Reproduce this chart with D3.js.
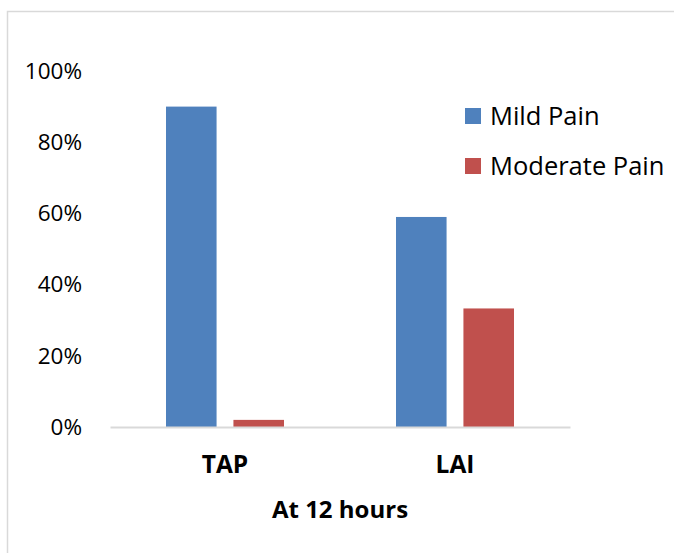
<!DOCTYPE html>
<html>
<head>
<meta charset="utf-8">
<script src="https://cdn.jsdelivr.net/npm/d3@7"></script>
<style>
  html, body { margin: 0; padding: 0; background: #fff; }
  svg { display: block; }
</style>
</head>
<body>
<svg id="chart" width="674" height="553"></svg>
<script>
// Pain scores at 12 hours, share of patients per group
const categories = ["TAP", "LAI"];
const seriesNames = ["Mild Pain", "Moderate Pain"];
const mildPain = [0.90, 0.59];
const moderatePain = [0.02, 0.333];
const yTicks = [0, 0.2, 0.4, 0.6, 0.8, 1.0];
const xTitle = "At 12 hours";

const colors = ["#4F81BD", "#C0504D"];
const font = "'Open Sans', 'DejaVu Sans', sans-serif";

const svg = d3.select("#chart");
const W = 674, H = 553;

// outer frame (top and left edges visible)
svg.append("rect")
  .attr("x", 7.5).attr("y", 11.5)
  .attr("width", W + 10).attr("height", H + 10)
  .attr("fill", "#fff")
  .attr("stroke", "#d9d9d9")
  .attr("stroke-width", 1.5);

const plot = { left: 110, right: 570, top: 71, bottom: 427 };

const x0 = d3.scaleBand()
  .domain(categories)
  .range([plot.left, plot.right])
  .paddingInner(0)
  .paddingOuter(0);

const x1 = d3.scaleBand()
  .domain(seriesNames)
  .range([0, 118])
  .paddingInner(0.25)
  .paddingOuter(0);

const y = d3.scaleLinear()
  .domain([0, 1])
  .range([plot.bottom, plot.top]);

const rows = categories.map((c, i) => ({
  category: c,
  values: [
    { series: seriesNames[0], value: mildPain[i] },
    { series: seriesNames[1], value: moderatePain[i] }
  ]
}));

// bars
const groups = svg.append("g").selectAll("g")
  .data(rows)
  .join("g")
  .attr("transform", d => `translate(${x0(d.category) + (x0.bandwidth() - 118) / 2},0)`);

groups.selectAll("rect")
  .data(d => d.values)
  .join("rect")
  .attr("x", d => x1(d.series))
  .attr("width", x1.bandwidth())
  .attr("y", d => y(d.value))
  .attr("height", d => y(0) - y(d.value))
  .attr("fill", (d, i) => colors[i]);

// y axis labels (no axis line)
const yAxis = d3.axisLeft(y)
  .tickValues(yTicks)
  .tickFormat(d3.format(".0%"))
  .tickSize(0)
  .tickPadding(0);

const yg = svg.append("g")
  .attr("transform", `translate(82,0)`)
  .call(yAxis);
yg.select(".domain").remove();
yg.selectAll("text")
  .attr("font-family", font)
  .attr("font-size", 22.5)
  .attr("fill", "#000");

// x axis baseline
const xAxis = d3.axisBottom(x0).tickSize(0).tickPadding(0);
const xg = svg.append("g")
  .attr("transform", `translate(0,${plot.bottom})`)
  .call(xAxis);
xg.select(".domain")
  .attr("stroke", "#d9d9d9")
  .attr("stroke-width", 2);
xg.selectAll("text")
  .attr("dy", 0)
  .attr("y", 46)
  .attr("font-family", font)
  .attr("font-size", 24.5)
  .attr("font-weight", "bold")
  .attr("fill", "#000");

// x axis title
svg.append("text")
  .attr("x", (plot.left + plot.right) / 2)
  .attr("y", 518)
  .attr("text-anchor", "middle")
  .attr("font-family", font)
  .attr("font-size", 24)
  .attr("font-weight", "bold")
  .attr("fill", "#000")
  .text(xTitle);

// legend
const legend = svg.append("g").attr("transform", "translate(465,108)");
const items = legend.selectAll("g")
  .data(seriesNames)
  .join("g")
  .attr("transform", (d, i) => `translate(0,${i * 50})`);
items.append("rect")
  .attr("width", 16).attr("height", 16)
  .attr("fill", (d, i) => colors[i]);
items.append("text")
  .attr("x", 25)
  .attr("y", 17)
  .attr("font-family", font)
  .attr("font-size", 25.5)
  .attr("fill", "#000")
  .text(d => d);
</script>
</body>
</html>
